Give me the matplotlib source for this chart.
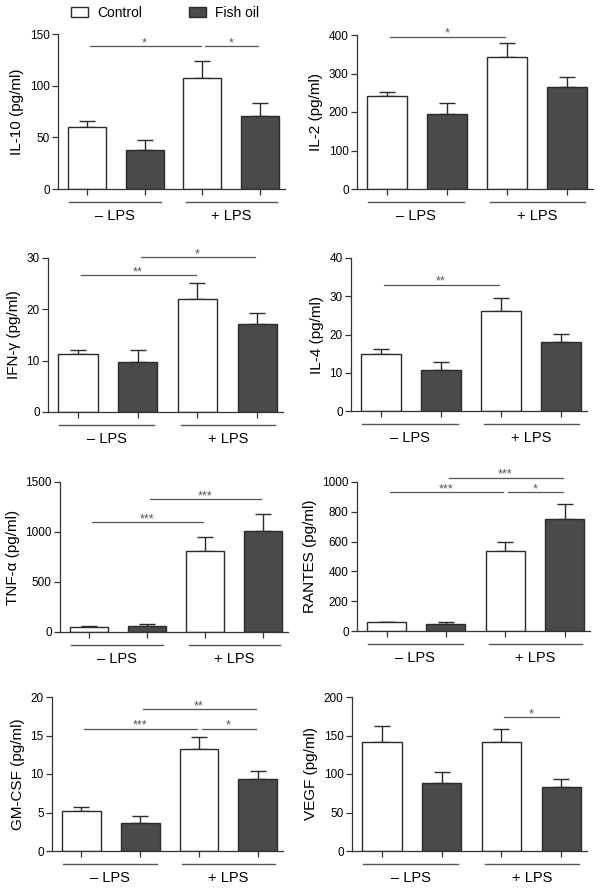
import matplotlib
matplotlib.use('Agg')
import matplotlib.pyplot as plt
from matplotlib.patches import Patch

plt.rcParams['font.family'] = ['Liberation Sans', 'DejaVu Sans']

# dados (média e erro, ordem: Controle -LPS, Óleo -LPS, Controle +LPS, Óleo +LPS)
series_names = ['Control', 'Fish oil']
groups = ['\u2013 LPS', '+ LPS']

il10 = [60, 38, 107, 71]
il10_err = [6, 9, 17, 12]
il2 = [241, 196, 343, 264]
il2_err = [10, 27, 36, 26]
ifng = [11.3, 9.8, 22.0, 17.1]
ifng_err = [0.7, 2.2, 3.1, 2.1]
il4 = [15.0, 10.7, 26.1, 18.0]
il4_err = [1.3, 2.1, 3.5, 2.1]
tnfa = [50, 60, 810, 1010]
tnfa_err = [8, 18, 140, 175]
rantes = [60, 50, 540, 755]
rantes_err = [3, 8, 55, 100]
gmcsf = [5.2, 3.7, 13.2, 9.35]
gmcsf_err = [0.55, 0.8, 1.6, 1.0]
vegf = [141, 88, 142, 83]
vegf_err = [21, 14, 17, 10]

# significância: (barra inicial, barra final, altura, rótulo)
il10_sig = [(0, 2, 138, '*'), (2, 3, 138, '*')]
il2_sig = [(0, 2, 396, '*')]
ifng_sig = [(0, 2, 26.7, '**'), (1, 3, 30.2, '*')]
il4_sig = [(0, 2, 33, '**')]
tnfa_sig = [(0, 2, 1100, '***'), (1, 3, 1330, '***')]
rantes_sig = [(0, 2, 930, '***'), (2, 3, 930, '*'), (1, 3, 1029, '***')]
gmcsf_sig = [(0, 2, 15.9, '***'), (2, 3, 15.9, '*'), (1, 3, 18.4, '**')]
vegf_sig = [(2, 3, 173.6, '*')]

W, H = 601, 893
fig = plt.figure(figsize=(W / 100, H / 100), dpi=100)

dark = '#4a4a4a'
edge = '#2b2b2b'
gray = '#555555'


def painel(box, vals, errs, sigs, ylabel, ymax, step):
    l, t, r, b = box
    ax = fig.add_axes([l / W, 1 - b / H, (r - l) / W, (b - t) / H])
    x = [0, 1, 2, 3]
    cores = ['white', dark, 'white', dark]
    ax.bar(x, vals, width=0.66, color=cores, edgecolor=edge, linewidth=1.0, zorder=2)
    ax.errorbar(x, vals, yerr=[[0] * 4, errs], fmt='none', ecolor=edge,
                elinewidth=1.0, capsize=6, capthick=1.0, zorder=1)
    ax.set_xlim(-0.5, 3.43)
    ax.set_ylim(0, ymax)
    ticks = [i * step for i in range(int(round(ymax / step)) + 1)]
    ax.set_yticks(ticks)
    ax.set_yticklabels([f'{v:g}' for v in ticks])
    ax.set_xticks(x)
    ax.set_xticklabels([])
    for s in ['top', 'right']:
        ax.spines[s].set_visible(False)
    for s in ['left', 'bottom']:
        ax.spines[s].set_color('#333333')
        ax.spines[s].set_linewidth(0.9)
    ax.tick_params(axis='both', direction='out', length=4, width=0.9,
                   color='#333333', labelsize=8.5, pad=2)
    ax.set_ylabel(ylabel, fontsize=11, labelpad=4)

    h = b - t
    for (a, c), g in zip([(-0.31, 1.28), (1.72, 3.29)], groups):
        ax.plot([a, c], [-13 / h, -13 / h], color=gray, lw=1.0, clip_on=False,
                transform=ax.get_xaxis_transform())
        ax.text((a + c) / 2, -27 / h, g, ha='center', va='center', fontsize=10.5,
                transform=ax.get_xaxis_transform())

    for i, j, y, lab in sigs:
        ax.plot([i + 0.05, j - 0.03], [y, y], color=gray, lw=0.9, clip_on=False)
        ax.text((i + j) / 2, y, lab, ha='center', va='baseline',
                fontsize=9, color=gray)
    return ax


painel((58, 34, 285, 189), il10, il10_err, il10_sig, 'IL-10 (pg/ml)', 150, 50)
painel((357, 35, 593, 189), il2, il2_err, il2_sig, 'IL-2 (pg/ml)', 400, 100)
painel((48, 258, 283, 412), ifng, ifng_err, ifng_sig, 'IFN-\u03b3 (pg/ml)', 30, 10)
painel((351, 258, 587, 411), il4, il4_err, il4_sig, 'IL-4 (pg/ml)', 40, 10)
painel((60, 482, 288, 632), tnfa, tnfa_err, tnfa_sig, 'TNF-\u03b1 (pg/ml)', 1500, 500)
painel((357, 482, 590, 631), rantes, rantes_err, rantes_sig, 'RANTES (pg/ml)', 1000, 200)
painel((52, 697, 283, 851), gmcsf, gmcsf_err, gmcsf_sig, 'GM-CSF (pg/ml)', 20, 5)
painel((352, 697, 587, 851), vegf, vegf_err, vegf_sig, 'VEGF (pg/ml)', 200, 50)

# legenda
handles = [Patch(facecolor='white', edgecolor=edge, linewidth=1.0),
           Patch(facecolor=dark, edgecolor=edge, linewidth=1.0)]
fig.legend(handles, series_names, loc='center', bbox_to_anchor=(165 / W, 1 - 13 / H),
           ncol=2, frameon=False, fontsize=10, handlelength=1.25, handleheight=0.7,
           columnspacing=3.4, handletextpad=0.6)

fig.savefig('out.png', dpi=100)
